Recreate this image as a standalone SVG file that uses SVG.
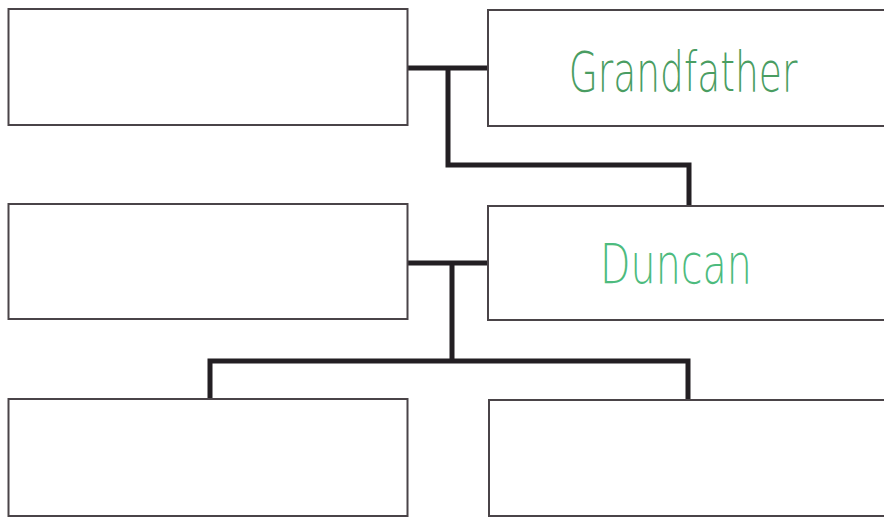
<svg xmlns="http://www.w3.org/2000/svg" width="884" height="518" viewBox="0 0 884 518">
<style>
.box{fill:#fff;stroke:#4a4448;stroke-width:2}
.con{fill:none;stroke:#231f23;stroke-width:5;stroke-linejoin:miter;stroke-linecap:butt}
.lbl{font-family:"DejaVu Sans",sans-serif;font-weight:200;text-anchor:middle}
</style>
<rect width="884" height="518" fill="#fff"/>
<g id="connectors">
<path class="con" d="M408,68 H488 M448,68 V165 H689 V206"/>
<path class="con" d="M408,263 H488 M452,263 V361 M210,399 V361 H688 V400"/>
</g>
<g id="node-tl"><rect class="box" x="8.5" y="9" width="399" height="116"/></g>
<g id="node-grandfather"><path class="box" d="M884,10 H488 V126 H884"/>
<text class="lbl" transform="translate(683,91) scale(1,1.49)" font-size="37.6" fill="#4a9d62">Grandfather</text></g>
<g id="node-ml"><rect class="box" x="8.5" y="204" width="399" height="115"/></g>
<g id="node-duncan"><path class="box" d="M884,206 H488 V320 H884"/>
<text class="lbl" transform="translate(676,283) scale(1,1.39)" font-size="39.6" fill="#4dbb7e">Duncan</text></g>
<g id="node-bl"><rect class="box" x="8.5" y="399" width="399" height="117"/></g>
<g id="node-br"><path class="box" d="M884,400 H489 V516 H884"/></g>
</svg>
